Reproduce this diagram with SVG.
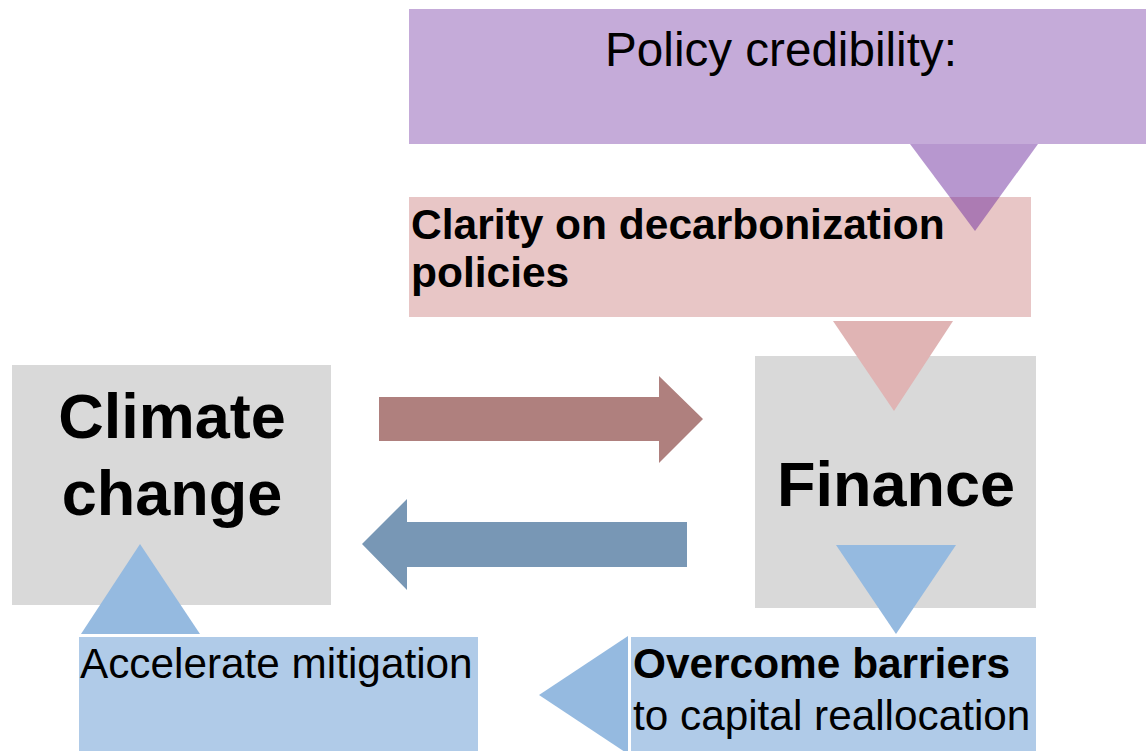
<svg xmlns="http://www.w3.org/2000/svg" width="1146" height="751" viewBox="0 0 1146 751">
  <style>
    .t { font-family: "Liberation Sans", Arial, sans-serif; fill: #000; }
    .b { font-weight: bold; }
    .gray { fill: #d9d9d9; }
    .lblue { fill: #b0cbe8; }
    .tri-blue { fill: #95bae0; }
  </style>
  <rect width="1146" height="751" fill="#ffffff"/>

  <g id="policy-credibility">
    <rect x="409" y="9" width="737" height="135" fill="#c5abd9"/>
    <text class="t" x="781" y="66" font-size="47.6" text-anchor="middle">Policy credibility:</text>
  </g>

  <g id="clarity">
    <rect x="409" y="197" width="622" height="120" fill="#e8c6c6"/>
    <text class="t b" x="411" y="239" font-size="42.5">Clarity on decarbonization</text>
    <text class="t b" x="411" y="287" font-size="42.5">policies</text>
  </g>

  <g id="climate-change">
    <rect class="gray" x="12" y="365" width="319" height="240"/>
    <text class="t b" x="172" y="438" font-size="63" text-anchor="middle">Climate</text>
    <text class="t b" x="172" y="515" font-size="63" text-anchor="middle">change</text>
  </g>

  <g id="finance">
    <rect class="gray" x="755" y="356" width="281" height="252"/>
    <text class="t b" x="896" y="506" font-size="63" text-anchor="middle">Finance</text>
  </g>

  <g id="accelerate-mitigation">
    <rect class="lblue" x="79" y="637" width="399" height="114"/>
    <text class="t" x="80" y="678" font-size="42.3">Accelerate mitigation</text>
  </g>

  <g id="overcome-barriers">
    <rect class="lblue" x="631" y="637" width="405" height="114"/>
    <text class="t b" x="633" y="678" font-size="42.4">Overcome barriers</text>
    <text class="t" x="633" y="730" font-size="42.3">to capital reallocation</text>
  </g>

  <g id="connectors">
    <!-- policy credibility feeds clarity (translucent, overlaps box) -->
    <polygon points="910,144 1038,144 975,231" fill="#7030a0" fill-opacity="0.5"/>
    <!-- clarity feeds finance -->
    <polygon points="833,321 953,321 894,411" fill="#e0b4b4"/>
    <!-- climate change to finance -->
    <polygon points="379,397 659,397 659,376 703,419 659,463 659,441 379,441" fill="#af807e"/>
    <!-- finance to climate change -->
    <polygon points="687,522 407,522 407,499 362,544 407,590 407,567 687,567" fill="#7897b5"/>
    <!-- finance down to overcome barriers -->
    <polygon class="tri-blue" points="836,545 956,545 896,634"/>
    <!-- overcome barriers to accelerate mitigation -->
    <polygon class="tri-blue" points="628,636 539,695 628,754"/>
    <!-- accelerate mitigation up to climate change -->
    <polygon class="tri-blue" points="81,634 200,634 140,544"/>
  </g>
</svg>
